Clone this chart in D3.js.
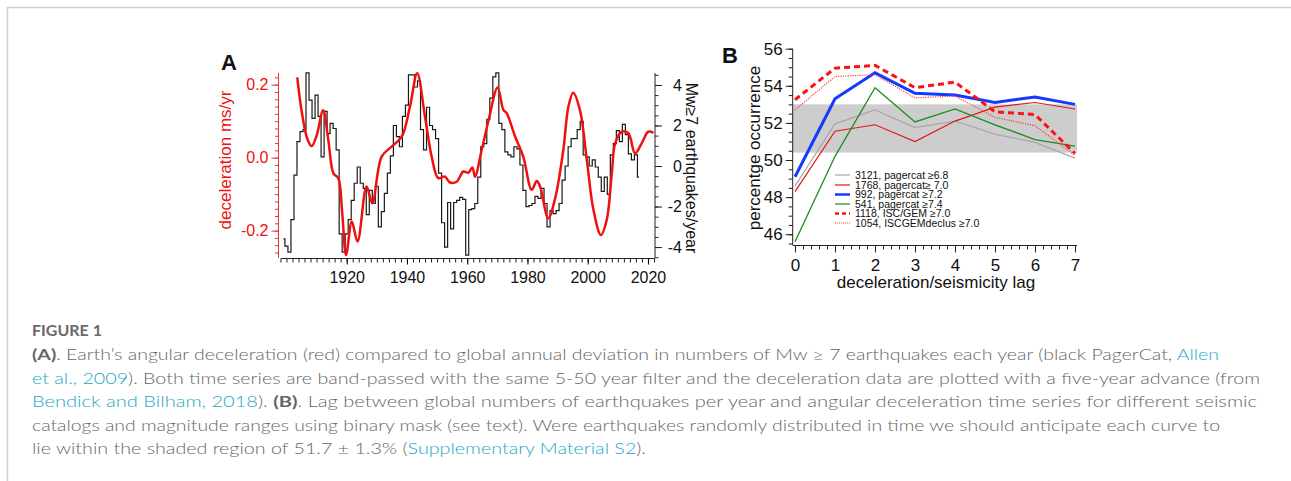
<!DOCTYPE html>
<html><head><meta charset="utf-8">
<script src="https://cdn.jsdelivr.net/npm/d3@7"></script>
<style>body{margin:0;background:#fff}svg{display:block}</style>
</head><body><svg id="c" width="1291" height="481"></svg>
<script>
// ---------- Panel A data ----------
const decelYears = [1903.6,1905,1907,1908.4,1910,1912.2,1913.9,1915.6,1917.2,1918.5,1919.8,1921.7,1923.6,1926.6,1928.5,1931.6,1934.9,1938.3,1941,1943.4,1946,1948.2,1950.4,1952.6,1954.3,1956.5,1958.7,1960.4,1961.7,1962.6,1964.8,1967,1970.1,1972,1973.1,1975.9,1978.6,1981.4,1983.1,1984.2,1986.9,1989.2,1991.9,1993.6,1995.2,1997.4,1999.7,2001.9,2004.4,2006.3,2008,2009.1,2011.3,2013.5,2015.7,2017.9,2020.1,2021.8];
const decelValues = [0.22,0.13,0.05,0.032,0.06,0.13,0.048,-0.043,-0.056,-0.15,-0.267,-0.175,-0.23,-0.079,-0.125,0.003,0.03,0.058,0.14,0.231,0.112,0.003,-0.056,-0.052,-0.068,-0.066,-0.038,-0.041,-0.027,-0.052,0.021,0.099,0.192,0.131,0.122,0.058,0.003,-0.088,-0.064,-0.079,-0.166,-0.111,0.021,0.14,0.178,0.131,-0.006,-0.143,-0.212,-0.171,-0.043,0.039,0.071,0.067,0.012,0.039,0.071,0.068];
const quakeStartYear = 1899;
const quakeValues = [-3.6,-3.95,-4.25,-2.65,-0.45,1.2,1.7,1.8,4.6,3.25,2.35,3.5,2.45,0.45,2.7,1.6,2.1,1.85,0.8,-3.35,-4.25,-3.35,-2.65,-1.7,-0.85,-0.05,-0.85,-1.1,-2.4,-1.2,-1.85,-1.0,-3.0,-2.25,-1.35,-0.35,0.5,2.0,1.45,0.95,2.45,3.0,4.5,4.5,3.9,4.2,1.8,0.8,2.9,2.0,1.8,1.35,-0.35,-2.8,-4.0,-1.8,-3.1,-1.8,-1.7,-1.55,-1.65,-4.4,-2.15,-2.1,-1.85,-0.55,0.95,1.1,2.3,3.35,4.4,4.6,2.1,1.8,0.7,0.55,0.45,0.95,0.85,0.05,-1.2,-2.0,-1.95,-1.85,-1.5,-1.6,-1.1,-1.85,-3.0,-2.2,-2.35,-2.2,-1.85,-0.7,0.0,0.95,1.35,1.35,1.8,2.2,0.55,0.45,0.0,0.3,-0.05,-0.55,-1.25,-0.55,-1.4,0.55,1.1,1.75,1.2,2.05,1.55,0.6,0.3,0.55,-0.55];
const yearLabels = [1920,1940,1960,1980,2000,2020];
const decelLabels = [-0.2,0.0,0.2];
const quakeLabels = [-4,-2,0,2,4];

// ---------- Panel B data ----------
const lags = [0,1,2,3,4,5,6,7];
const lagLabels = [0,1,2,3,4,5,6,7];
const pctLabels = [46,48,50,52,54,56];
const shadeRange = [50.4,53.0];
const seriesNames = ["3121, pagercat \u22656.8","1768, pagercat\u2265 7.0","992,  pagercat \u22657.2","541, pagercat \u22657.4","1118,  ISC/GEM \u22657.0","1054, ISCGEMdeclus \u22657.0"];
const gray3121 = [48.6,51.95,52.7,51.75,52.1,51.4,50.95,50.1];
const red1768 = [48.3,51.55,51.9,51.0,52.1,52.85,53.1,52.75];
const blue992 = [49.1,53.3,54.7,53.6,53.5,53.1,53.4,53.0];
const green541 = [45.6,50.2,53.9,52.05,52.75,51.9,51.1,50.75];
const isc1118 = [53.25,54.95,55.1,53.9,54.2,52.6,52.45,50.35];
const declus1054 = [52.7,54.5,54.6,53.35,53.45,52.3,51.85,50.25];

const svg = d3.select('#c');
const SANS = '"Liberation Sans", Arial, Helvetica, sans-serif';
const hy = s => String(s).replace('\u2212','-');
svg.append('rect').attr('width',1291).attr('height',481).attr('fill','#fff');
svg.append('path').attr('d','M7.5,481 V7.5 H1291').attr('fill','none').attr('stroke','#d0d0d0').attr('stroke-width',1.5);

// ===== Panel A =====
const xA = d3.scaleLinear().domain([1897.5,2022.3]).range([278.9,654.9]);
const yL = d3.scaleLinear().domain([-0.275,0.232]).range([258,73]);
const yR = d3.scaleLinear().domain([-4.54,4.59]).range([258,73]);
const gA = svg.append('g').attr('font-family',SANS);

// black step series
const quakeData = quakeValues.map((v,i)=>({x:quakeStartYear+i,y:v}));
gA.append('path').datum(quakeData)
  .attr('d', d3.line().x(d=>xA(d.x)).y(d=>yR(d.y)).curve(d3.curveStep))
  .attr('fill','none').attr('stroke','#1a1a1a').attr('stroke-width',1.2);
// red curve
const decelData = decelYears.map((y,i)=>({x:y,y:decelValues[i]}));
gA.append('path').datum(decelData)
  .attr('d', d3.line().x(d=>xA(d.x)).y(d=>yL(d.y)).curve(d3.curveCatmullRom.alpha(0.5)))
  .attr('fill','none').attr('stroke','#f01010').attr('stroke-width',2.5).attr('stroke-linejoin','round');

// bottom axis
const bx = gA.append('g').attr('transform','translate(0,258.5)');
bx.call(d3.axisBottom(xA).tickValues(d3.range(1898,2023,2)).tickSize(4).tickFormat(''));
bx.call(g=>g.selectAll('.tick line').attr('stroke','#222'));
bx.select('.domain').remove();
gA.append('g').attr('transform','translate(0,258.5)')
  .call(d3.axisBottom(xA).tickValues(yearLabels).tickSize(6).tickPadding(7).tickFormat(d3.format('d')))
  .call(g=>{g.select('.domain').attr('d','M'+281+',0H'+654.9).attr('stroke','#222');
            g.selectAll('text').attr('font-size',16).attr('fill','#111').attr('font-family',SANS);});

// left axis (red)
const lx = gA.append('g').attr('transform','translate(278.5,0)');
lx.call(d3.axisLeft(yL).tickValues(d3.range(-0.26,0.231,0.02)).tickSize(3.5).tickFormat(''));
lx.select('.domain').remove();
lx.selectAll('.tick line').attr('stroke','#f03030');
gA.append('g').attr('transform','translate(278.5,0)')
  .call(d3.axisLeft(yL).tickValues(decelLabels).tickSize(7).tickPadding(3).tickFormat(d=>hy(d.toFixed(1))))
  .call(g=>{g.select('.domain').attr('d','M0,73V258').attr('stroke','#f03030');
            g.selectAll('.tick line').attr('stroke','#f03030');
            g.selectAll('text').attr('font-size',16).attr('fill','#f01010').attr('font-family',SANS);});

// right axis
const rx = gA.append('g').attr('transform','translate(655,0)');
rx.call(d3.axisRight(yR).tickValues(d3.range(-4.5,4.6,0.5)).tickSize(3.5).tickFormat(''));
rx.select('.domain').remove();
rx.selectAll('.tick line').attr('stroke','#222');
gA.append('g').attr('transform','translate(655,0)')
  .call(d3.axisRight(yR).tickValues(quakeLabels).tickSize(7).tickFormat(d=>hy(d)))
  .call(g=>{g.select('.domain').attr('d','M0,73V258').attr('stroke','#222');
            g.selectAll('.tick line').attr('stroke','#222');
            g.selectAll('text').attr('x',27).attr('text-anchor','end').attr('font-size',16).attr('fill','#111').attr('font-family',SANS);});

gA.append('text').attr('transform','translate(231,160) rotate(-90)').attr('text-anchor','middle')
  .attr('font-size',17).attr('fill','#f01010').text('deceleration ms/yr');
gA.append('text').attr('transform','translate(686,168) rotate(90)').attr('text-anchor','middle')
  .attr('font-size',16).attr('fill','#111').text('Mw\u22657 earthquakes/year');
gA.append('text').attr('x',221).attr('y',70).attr('font-size',22).attr('font-weight','bold').attr('fill','#111').text('A');

// ===== Panel B =====
const xB = d3.scaleLinear().domain([-0.0575,7.05]).range([792.7,1077]);
const yB = d3.scaleLinear().domain([45.42,56]).range([245,48.7]);
const gB = svg.append('g').attr('font-family',SANS);

gB.append('rect').attr('x',xB(-0.0575)).attr('width',xB(7.05)-xB(-0.0575))
  .attr('y',yB(shadeRange[1])).attr('height',yB(shadeRange[0])-yB(shadeRange[1])).attr('fill','#cdcdcd');

const styles = [
  {data:gray3121,color:'#a8a8a8',w:1.2,dash:null},
  {data:red1768,color:'#e01818',w:1.2,dash:null},
  {data:blue992,color:'#1638ff',w:3,dash:null},
  {data:green541,color:'#1e8c1e',w:1.3,dash:null},
  {data:isc1118,color:'#ff1010',w:3,dash:'6,4'},
  {data:declus1054,color:'#ff4040',w:1.2,dash:'1.2,1.2'}
];
const lineB = d3.line().x((d,i)=>xB(lags[i])).y(d=>yB(d));
styles.forEach(s=>{
  gB.append('path').datum(s.data).attr('d',lineB).attr('fill','none')
    .attr('stroke',s.color).attr('stroke-width',s.w).attr('stroke-dasharray',s.dash);
});

// axes B
const bxB = gB.append('g').attr('transform','translate(0,245.5)');
bxB.call(d3.axisBottom(xB).tickValues(d3.range(0,7.01,0.2)).tickSize(4).tickFormat(''));
bxB.select('.domain').remove();
bxB.selectAll('.tick line').attr('stroke','#222');
gB.append('g').attr('transform','translate(0,245.5)')
  .call(d3.axisBottom(xB).tickValues(lagLabels).tickSize(7).tickPadding(6).tickFormat(d3.format('d')))
  .call(g=>{g.select('.domain').attr('d','M792.7,0H1077').attr('stroke','#222');
            g.selectAll('.tick line').attr('stroke','#222');
            g.selectAll('text').attr('font-size',17).attr('fill','#111').attr('font-family',SANS);});
const lyB = gB.append('g').attr('transform','translate(792.7,0)');
lyB.call(d3.axisLeft(yB).tickValues(d3.range(45.5,56.01,0.5)).tickSize(4).tickFormat(''));
lyB.select('.domain').remove();
lyB.selectAll('.tick line').attr('stroke','#222');
gB.append('g').attr('transform','translate(792.7,0)')
  .call(d3.axisLeft(yB).tickValues(pctLabels).tickSize(7).tickPadding(3).tickFormat(d3.format('d')))
  .call(g=>{g.select('.domain').attr('d','M0,48.7V245').attr('stroke','#222');
            g.selectAll('.tick line').attr('stroke','#222');
            g.selectAll('text').attr('font-size',17).attr('fill','#111').attr('font-family',SANS);});

gB.append('text').attr('transform','translate(760,148) rotate(-90)').attr('text-anchor','middle')
  .attr('font-size',17).attr('fill','#111').text('percentge occurrence');
gB.append('text').attr('x',936).attr('y',288).attr('text-anchor','middle')
  .attr('font-size',17).attr('fill','#111').text('deceleration/seismicity lag');
gB.append('text').attr('x',722).attr('y',63).attr('font-size',22).attr('font-weight','bold').attr('fill','#111').text('B');

// legend
const legY = [175,185,194.5,204,213.5,223];
styles.forEach((s,i)=>{
  gB.append('line').attr('x1',835).attr('x2',850).attr('y1',legY[i]).attr('y2',legY[i])
    .attr('stroke',s.color).attr('stroke-width',s.w===3?2.5:1.2).attr('stroke-dasharray',s.dash?(s.w===3?'4,3':'1,1'):null);
  gB.append('text').attr('x',855).attr('y',legY[i]+3.6).attr('font-size',10.5).attr('fill','#111').text(seriesNames[i]);
});

// ===== Caption =====
const CAP = 'Lato, "Open Sans", sans-serif';
const capColor = '#666666', link = '#22a7c4';
const cap = svg.append('g').attr('font-family',CAP).attr('font-size',16).attr('fill',capColor);
cap.append('text').attr('x',32).attr('y',336).attr('font-weight','bold').attr('fill','#6a6a6a').attr('font-size',16).text('FIGURE 1');
const lines = [
  {y:360, len:1187, parts:[['(A)','b'],['. Earth\u2019s angular deceleration (red) compared to global annual deviation in numbers of Mw \u2265 7 earthquakes each year (black PagerCat, ',''],['Allen','l']]},
  {y:384, len:1228, parts:[['et al., 2009','l'],['). Both time series are band-passed with the same 5-50 year filter and the deceleration data are plotted with a five-year advance (from','']]},
  {y:407, len:1225, parts:[['Bendick and Bilham, 2018','l'],['). ',''],['(B)','b'],['. Lag between global numbers of earthquakes per year and angular deceleration time series for different seismic','']]},
  {y:431, len:1188, parts:[['catalogs and magnitude ranges using binary mask (see text). Were earthquakes randomly distributed in time we should anticipate each curve to','']]},
  {y:454, len:614, parts:[['lie within the shaded region of 51.7 \u00b1 1.3% (',''],['Supplementary Material S2','l'],[').','']]}
];
lines.forEach(L=>{
  const t = cap.append('text').attr('x',32).attr('y',L.y).attr('textLength',L.len).attr('lengthAdjust','spacingAndGlyphs').attr('font-weight',300);
  L.parts.forEach(p=>{
    const ts = t.append('tspan').text(p[0]);
    if(p[1]==='b') ts.attr('font-weight','bold');
    if(p[1]==='l') ts.attr('fill',link);
  });
});
</script></body></html>
